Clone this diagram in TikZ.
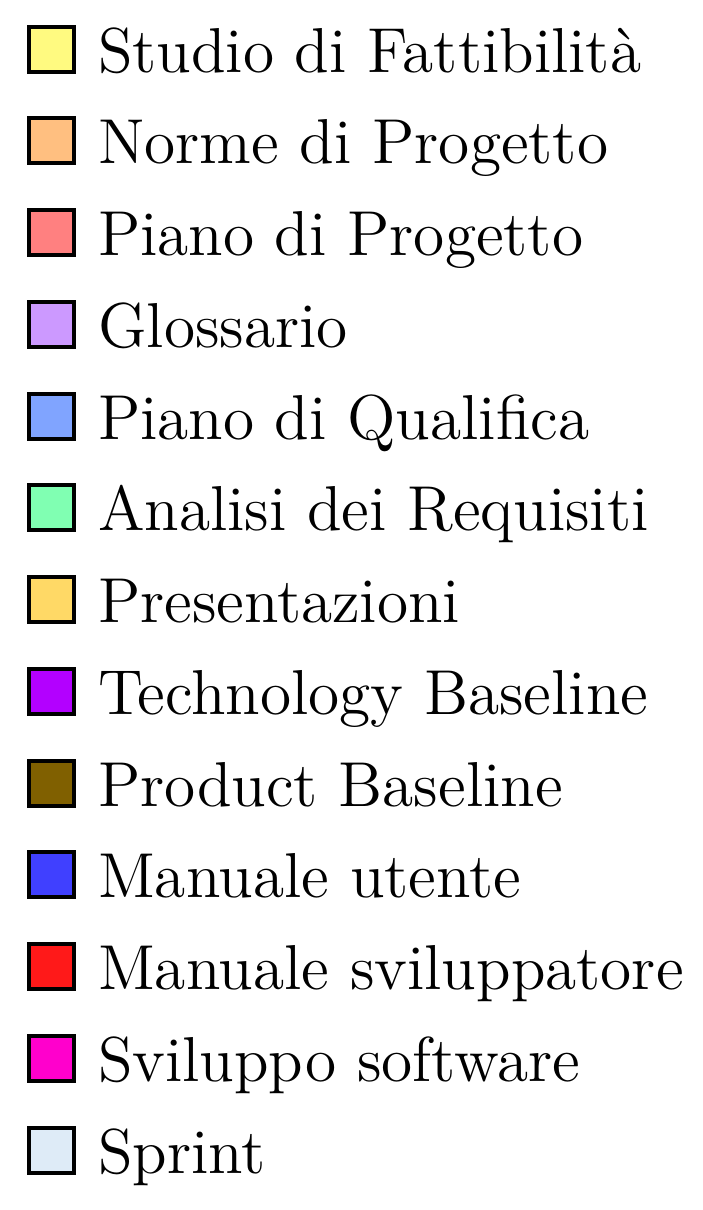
\documentclass[tikz,border=0pt]{standalone}
\definecolor{cStudio}{RGB}{255,250,128}
\definecolor{cNorme}{RGB}{255,191,128}
\definecolor{cPdP}{RGB}{255,128,128}
\definecolor{cGloss}{RGB}{204,153,255}
\definecolor{cPdQ}{RGB}{128,164,255}
\definecolor{cAdR}{RGB}{128,255,178}
\definecolor{cPres}{RGB}{255,217,102}
\definecolor{cTB}{RGB}{179,0,255}
\definecolor{cPB}{RGB}{128,96,0}
\definecolor{cMU}{RGB}{64,64,255}
\definecolor{cMS}{RGB}{255,25,25}
\definecolor{cSS}{RGB}{255,0,204}
\definecolor{cSpr}{RGB}{222,235,247}
\begin{document}
\begin{tikzpicture}[x=1pt,y=1pt,
  sw/.style={draw=black, line width=4pt, minimum size=45pt, inner sep=0pt, outer sep=0pt, fill=#1},
  lab/.style={anchor=base west, inner sep=0pt, outer sep=0pt, scale=5.29, font=\fontsize{12}{14}\selectfont}]
\useasboundingbox (0,0) rectangle (702,-1210);
\foreach \c/\t [count=\i from 0] in {
  cStudio/{Studio di Fattibilità},
  cNorme/{Norme di Progetto},
  cPdP/{Piano di Progetto},
  cGloss/{Glossario},
  cPdQ/{Piano di Qualifica},
  cAdR/{Analisi dei Requisiti},
  cPres/{Presentazioni},
  cTB/{Technology Baseline},
  cPB/{Product Baseline},
  cMU/{Manuale utente},
  cMS/{Manuale sviluppatore},
  cSS/{Sviluppo software},
  cSpr/{Sprint}} {
  \node[sw=\c] (s\i) at (51.5,{-49-91.75*\i}) {};
  \node[lab] (t\i) at (98,{-72-91.75*\i}) {\t};
}
\end{tikzpicture}
\end{document}
